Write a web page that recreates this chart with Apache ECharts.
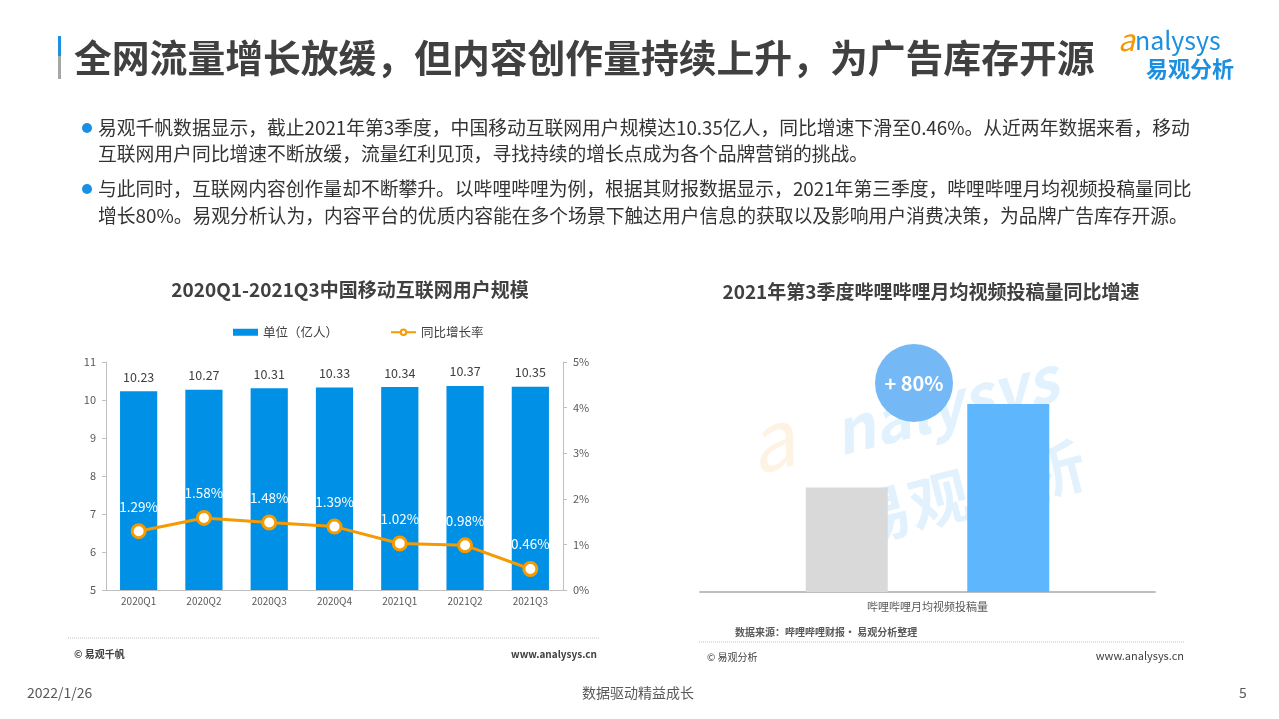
<!DOCTYPE html>
<html><head><meta charset="utf-8">
<script src="https://cdn.jsdelivr.net/npm/echarts@6/dist/echarts.min.js"></script>
<style>html,body{margin:0;padding:0;background:#fff;}#c{width:1279px;height:719px;}</style>
</head><body><div id="c"></div>
<script>
// ---- data ----
const quarters = ['2020Q1','2020Q2','2020Q3','2020Q4','2021Q1','2021Q2','2021Q3'];
const users = [10.23, 10.27, 10.31, 10.33, 10.34, 10.37, 10.35];
const growth = [1.29, 1.58, 1.48, 1.39, 1.02, 0.98, 0.46];
const leftTicks = {min: 5, max: 11, interval: 1};
const rightTicks = {min: 0, max: 5, interval: 1};
const biliCategory = ['哔哩哔哩月均视频投稿量'];
const biliPrev = [100];
const biliCurr = [180];

const FONT = '"Noto Sans CJK SC","Noto Sans",sans-serif';
const chart = echarts.init(document.getElementById('c'));
const rate = Math.round((biliCurr[0] - biliPrev[0]) / biliPrev[0] * 100);

const bullets = [
  ['易观千帆数据显示，截止2021年第3季度，中国移动互联网用户规模达10.35亿人，同比增速下滑至0.46%。从近两年数据来看，移动', 128],
  ['互联网用户同比增速不断放缓，流量红利见顶，寻找持续的增长点成为各个品牌营销的挑战。', 154],
  ['与此同时，互联网内容创作量却不断攀升。以哔哩哔哩为例，根据其财报数据显示，2021年第三季度，哔哩哔哩月均视频投稿量同比', 189],
  ['增长80%。易观分析认为，内容平台的优质内容能在多个场景下触达用户信息的获取以及影响用户消费决策，为品牌广告库存开源。', 216]
];
const graphics = [
  {type:'rect', shape:{x:58,y:36,width:3,height:20}, style:{fill:'#1f8fe0'}},
  {type:'rect', shape:{x:58,y:56,width:3,height:23}, style:{fill:'#a6a6a6'}},
  {type:'text', x:74, y:58, style:{text:'全网流量增长放缓，但内容创作量持续上升，为广告库存开源', font:'bold 37.8px '+FONT, fill:'#404040', textVerticalAlign:'middle'}},
  // logo
  {type:'text', x:1118, y:40, style:{text:'{o|a}{b|nalysys}', rich:{o:{font:'italic 30px '+FONT, fill:'#f39800'}, b:{font:'25px '+FONT, fill:'#1c8fe0'}}, textVerticalAlign:'middle'}},
  {type:'text', x:1146, y:69, style:{text:'易观分析', font:'bold 22px '+FONT, fill:'#1c8fe0', textVerticalAlign:'middle'}},
  // footer
  {type:'text', x:27, y:693, style:{text:'2022/1/26', font:'14px '+FONT, fill:'#595959', textVerticalAlign:'middle'}},
  {type:'text', x:638, y:693, style:{text:'数据驱动精益成长', font:'14px '+FONT, fill:'#595959', textAlign:'center', textVerticalAlign:'middle'}},
  {type:'text', x:1243, y:693, style:{text:'5', font:'14px '+FONT, fill:'#595959', textAlign:'center', textVerticalAlign:'middle'}},
  // left footer
  {type:'line', shape:{x1:68,y1:638,x2:600,y2:638}, style:{stroke:'#bfbfbf', lineWidth:1, lineDash:[1,1]}},
  {type:'text', x:74, y:654, style:{text:'© 易观千帆', font:'bold 10px '+FONT, fill:'#404040', textVerticalAlign:'middle'}},
  {type:'text', x:597, y:654, style:{text:'www.analysys.cn', font:'bold 10px '+FONT, fill:'#404040', textAlign:'right', textVerticalAlign:'middle'}},
  // right footer
  {type:'text', x:735, y:632, style:{text:'数据来源：哔哩哔哩财报· 易观分析整理', font:'bold 10px '+FONT, fill:'#595959', textVerticalAlign:'middle'}},
  {type:'line', shape:{x1:699,y1:642,x2:1185,y2:642}, style:{stroke:'#bfbfbf', lineWidth:1, lineDash:[1,1]}},
  {type:'text', x:707, y:657, style:{text:'© 易观分析', font:'10px '+FONT, fill:'#404040', textVerticalAlign:'middle'}},
  {type:'text', x:1184, y:656, style:{text:'www.analysys.cn', font:'11px '+FONT, fill:'#404040', textAlign:'right', textVerticalAlign:'middle'}},
  // right watermark
  {type:'text', x:770, y:440, rotation:0.25, z:-1, style:{text:'a', font:'italic 80px '+FONT, fill:'rgba(245,170,60,0.15)', textAlign:'center', textVerticalAlign:'middle'}},
  {type:'text', x:945, y:405, rotation:0.25, z:-1, style:{text:'nalysys', font:'italic bold 62px '+FONT, fill:'rgba(120,190,245,0.22)', textAlign:'center', textVerticalAlign:'middle'}},
  {type:'text', x:968, y:492, rotation:0.25, z:-1, style:{text:'易观分析', font:'bold 60px '+FONT, fill:'rgba(120,190,245,0.22)', textAlign:'center', textVerticalAlign:'middle'}},
  // growth bubble
  {type:'circle', shape:{cx:914, cy:383, r:39}, style:{fill:'#74b9f5'}, z:10},
  {type:'text', x:914, y:383, z:11, style:{text:'+ '+rate+'%', font:'bold 20px '+FONT, fill:'#ffffff', textAlign:'center', textVerticalAlign:'middle'}}
];
bullets.forEach(function(b, i){
  if (i === 0 || i === 2) graphics.push({type:'circle', shape:{cx:87, cy:b[1], r:5}, style:{fill:'#1a8fe3'}});
  graphics.push({type:'text', x:98, y:b[1], style:{text:b[0], font:'18.8px '+FONT, fill:'#333333', textVerticalAlign:'middle'}});
});

const axisLineStyle = {lineStyle:{color:'#bfbfbf', width:1}};
const option = {
  animation:false,
  textStyle:{fontFamily:FONT},
  title:[
    {text:'2020Q1-2021Q3中国移动互联网用户规模', left:345, top:275, textAlign:'center', textStyle:{fontSize:19, fontWeight:'bold', color:'#404040', fontFamily:FONT}},
    {text:'2021年第3季度哔哩哔哩月均视频投稿量同比增速', left:926, top:277, textAlign:'center', textStyle:{fontSize:19, fontWeight:'bold', color:'#404040', fontFamily:FONT}}
  ],
  legend:{left:228, top:321, itemGap:52, itemWidth:25, itemHeight:7, textStyle:{fontSize:12.5, color:'#404040', fontFamily:FONT},
    data:[{name:'单位（亿人）', icon:'rect'}, {name:'同比增长率'}]},
  grid:[
    {left:106, right:716, top:362, bottom:129},
    {left:700, width:455, top:331, bottom:127}
  ],
  xAxis:[
    {type:'category', gridIndex:0, data:quarters, axisLine:axisLineStyle, axisTick:{show:false},
      axisLabel:{fontSize:10, color:'#595959', margin:6}},
    {type:'category', gridIndex:1, data:biliCategory, axisLine:{lineStyle:{color:'#bfbfbf', width:2}}, axisTick:{show:false},
      axisLabel:{fontSize:11, color:'#595959', margin:9}}
  ],
  yAxis:[
    {type:'value', gridIndex:0, min:leftTicks.min, max:leftTicks.max, interval:leftTicks.interval, axisLine:{show:true, lineStyle:{color:'#bfbfbf'}},
      axisTick:{show:true, length:4, lineStyle:{color:'#bfbfbf'}}, splitLine:{show:false}, axisLabel:{fontSize:11, color:'#595959', margin:10}},
    {type:'value', gridIndex:0, position:'right', min:rightTicks.min, max:rightTicks.max, interval:rightTicks.interval, axisLine:{show:true, lineStyle:{color:'#bfbfbf'}},
      axisTick:{show:true, length:4, lineStyle:{color:'#bfbfbf'}}, splitLine:{show:false}, axisLabel:{fontSize:11, color:'#595959', margin:10, formatter:'{value}%'}},
    {type:'value', gridIndex:1, show:false, min:0, max:2.5*biliPrev[0], splitLine:{show:false}}
  ],
  series:[
    {name:'单位（亿人）', type:'bar', xAxisIndex:0, yAxisIndex:0, data:users, barWidth:'57%', itemStyle:{color:'#0091e6'},
      label:{show:true, position:'top', distance:8, fontSize:12.5, color:'#404040', formatter:function(p){return p.value.toFixed(2);}}},
    {name:'同比增长率', type:'line', xAxisIndex:0, yAxisIndex:1, data:growth, symbol:'circle', symbolSize:13,
      lineStyle:{color:'#f59a00', width:3}, itemStyle:{color:'#ffffff', borderColor:'#f59a00', borderWidth:3},
      label:{show:true, position:'top', distance:10, fontSize:13.5, color:'#ffffff', formatter:function(p){return p.value.toFixed(2)+'%';}}},
    {name:'上年同期', type:'bar', xAxisIndex:1, yAxisIndex:2, data:biliPrev, barWidth:82, barGap:'97%', itemStyle:{color:'#d9d9d9'}},
    {name:'本期', type:'bar', xAxisIndex:1, yAxisIndex:2, data:biliCurr, barWidth:82, barGap:'97%', itemStyle:{color:'#5eb6fc'}}
  ],
  graphic:graphics
};
chart.setOption(option);
</script></body></html>
